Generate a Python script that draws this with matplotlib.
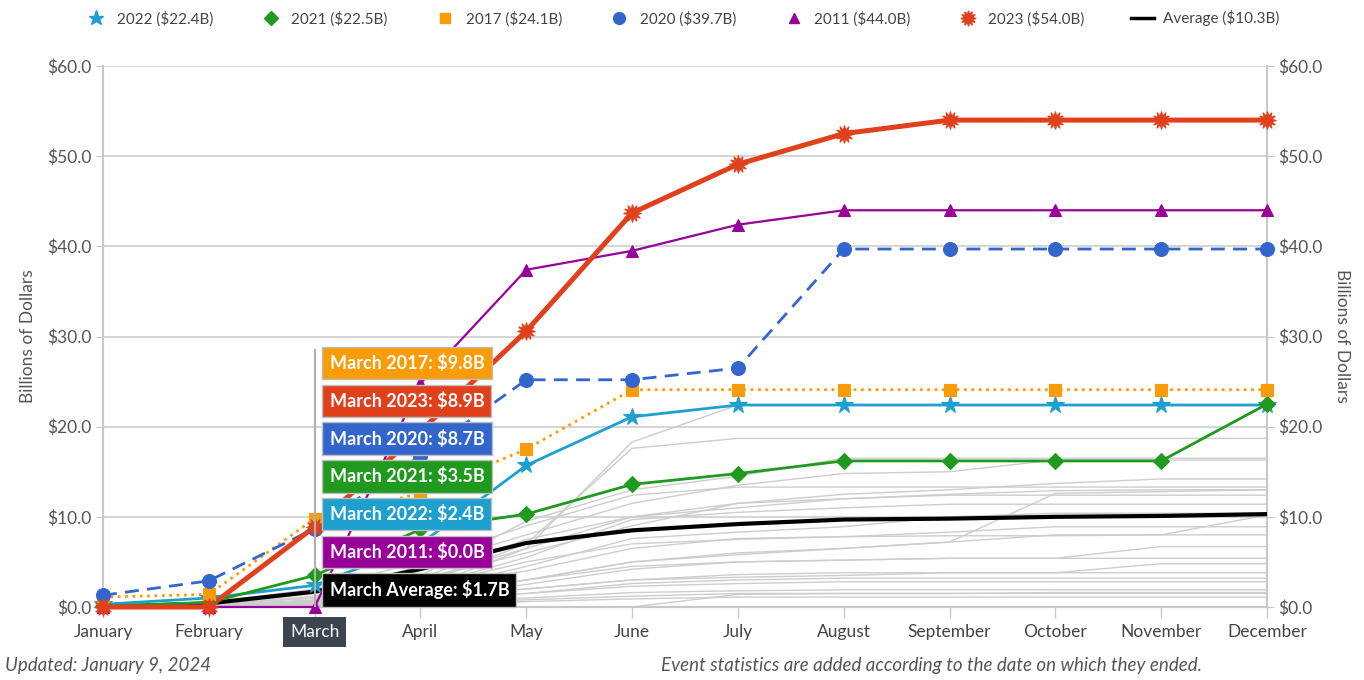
import matplotlib
matplotlib.use("Agg")
import matplotlib.pyplot as plt
from matplotlib.lines import Line2D
import numpy as np

plt.rcParams['font.family'] = ['Lato', 'DejaVu Sans']

months = ["January", "February", "March", "April", "May", "June", "July",
          "August", "September", "October", "November", "December"]

y2022 = [0.3, 1.0, 2.4, 7.0, 15.7, 21.1, 22.4, 22.4, 22.4, 22.4, 22.4, 22.4]
y2021 = [0.1, 0.5, 3.5, 8.6, 10.3, 13.6, 14.8, 16.2, 16.2, 16.2, 16.2, 22.5]
y2017 = [1.1, 1.4, 9.8, 12.6, 17.5, 24.1, 24.1, 24.1, 24.1, 24.1, 24.1, 24.1]
y2020 = [1.3, 2.9, 8.7, 16.8, 25.2, 25.2, 26.5, 39.7, 39.7, 39.7, 39.7, 39.7]
y2011 = [0.0, 0.0, 0.0, 24.8, 37.4, 39.5, 42.4, 44.0, 44.0, 44.0, 44.0, 44.0]
y2023 = [0.0, 0.0, 8.9, 19.5, 30.6, 43.7, 49.1, 52.5, 54.0, 54.0, 54.0, 54.0]
y_avg = [0.0, 0.4, 1.7, 4.2, 7.1, 8.5, 9.2, 9.7, 9.8, 10.0, 10.1, 10.3]

gray_years = [
    [0, 0.2, 0.6, 2.0, 6.5, 18.3, 22.4, 22.4, 22.4, 22.4, 22.4, 22.4],
    [0, 0.1, 0.5, 2.5, 7.0, 17.6, 18.7, 18.7, 18.7, 18.7, 18.7, 18.7],
    [0.1, 0.3, 1.2, 3.5, 9.5, 13.0, 14.5, 16.5, 16.5, 16.5, 16.5, 16.5],
    [0, 0.4, 1.5, 4.5, 8.0, 11.5, 13.5, 14.8, 15.0, 16.3, 16.3, 16.3],
    [0, 0.2, 0.8, 3.0, 6.0, 9.0, 11.5, 12.5, 13.0, 13.7, 14.2, 14.2],
    [0.1, 0.5, 2.0, 5.0, 9.0, 12.4, 13.3, 13.3, 13.3, 13.3, 13.3, 13.3],
    [0, 0.1, 0.3, 1.5, 3.0, 5.0, 5.8, 6.5, 7.2, 12.6, 12.8, 13.0],
    [0, 0.3, 1.0, 3.0, 6.5, 10.0, 11.5, 12.0, 12.4, 12.4, 12.4, 12.4],
    [0, 0.2, 0.7, 2.2, 5.5, 9.7, 10.5, 11.0, 11.4, 11.4, 11.4, 11.4],
    [0, 0.1, 0.4, 1.8, 4.5, 7.6, 8.3, 8.9, 10.0, 10.4, 10.4, 10.4],
    [0, 0.2, 0.5, 2.0, 4.0, 6.5, 7.6, 7.8, 7.9, 7.9, 8.0, 10.2],
    [0, 0.1, 0.3, 1.2, 3.0, 5.0, 6.0, 6.5, 7.2, 8.0, 8.0, 8.0],
    [0, 0.1, 0.4, 1.5, 3.0, 4.5, 5.0, 5.2, 5.4, 5.4, 6.7, 6.7],
    [0, 0.1, 0.3, 1.0, 2.5, 4.2, 5.0, 5.2, 5.4, 5.4, 5.4, 5.4],
    [0, 0.05, 0.2, 0.8, 2.0, 3.0, 3.3, 3.5, 3.8, 3.8, 4.8, 4.8],
    [0, 0.1, 0.3, 1.0, 2.0, 3.0, 3.6, 3.8, 3.8, 3.8, 3.8, 3.8],
    [0, 0.05, 0.2, 0.7, 1.5, 2.6, 3.0, 3.2, 3.2, 3.2, 3.2, 3.2],
    [0, 0.1, 0.3, 0.8, 1.5, 2.3, 2.6, 2.8, 2.8, 2.8, 2.8, 2.8],
    [0, 0.05, 0.2, 0.5, 1.0, 1.6, 1.8, 1.9, 1.9, 1.9, 1.9, 1.9],
    [0, 0.05, 0.1, 0.4, 0.8, 1.2, 1.5, 1.5, 1.5, 1.5, 1.5, 1.5],
    [0, 0, 0.1, 0.3, 0.6, 0.9, 1.1, 1.1, 1.1, 1.1, 1.1, 1.1],
    [0, 0, 0, 0, 0, 0, 1.4, 1.5, 1.5, 1.6, 1.6, 1.6],
    [0, 0.2, 0.6, 2.2, 5.0, 7.0, 7.5, 7.8, 8.3, 8.9, 8.9, 8.9],
    [0, 0.3, 1.0, 3.2, 7.5, 10.0, 11.0, 12.0, 12.5, 12.9, 13.0, 13.0],
]

series = [
    # label, values, color, marker, linestyle, lw, markersize
    ("2022 ($22.4B)", y2022, "#1d9fcf", "*", "-", 2.0, 13),
    ("2021 ($22.5B)", y2021, "#1f9a1f", "D", "-", 2.0, 8),
    ("2017 ($24.1B)", y2017, "#f99c07", "s", ":", 2.0, 8),
    ("2020 ($39.7B)", y2020, "#3366cc", "o", (0, (5, 3)), 2.0, 10),
    ("2011 ($44.0B)", y2011, "#990099", "^", "-", 1.6, 9),
    ("2023 ($54.0B)", y2023, "#e0401c", (12, 1, 0), "-", 3.6, 13),
]
avg_label = "Average ($10.3B)"

tooltip_labels = ["March 2017: $9.8B", "March 2023: $8.9B", "March 2020: $8.7B",
                  "March 2021: $3.5B", "March 2022: $2.4B", "March 2011: $0.0B",
                  "March Average: $1.7B"]
tooltip_colors = ["#f99c07", "#e0401c", "#3366cc", "#1f9a1f", "#1d9fcf", "#990099", "#000000"]

fig = plt.figure(figsize=(13.64, 6.8), dpi=100)
ax = fig.add_axes([103/1364, 1-607/680, (1267-103)/1364, (607-66)/680])
x = np.arange(len(months))

grid_c = "#d6d6d6"
for g in gray_years:
    ax.plot(x, g, color="#cdcdcd", lw=1.0, zorder=2)

ax.plot(x, y_avg, color="black", lw=3.0, zorder=3, solid_capstyle='round')

handles = []
for label, vals, col, mk, ls, lw, ms in series:
    ax.plot(x, vals, color=col, lw=lw, linestyle=ls, zorder=4, clip_on=False)
    ax.plot(x, vals, linestyle="none", marker=mk, markersize=ms, color=col,
            markeredgecolor=col, markeredgewidth=0.8, zorder=5, clip_on=False)
    handles.append(Line2D([], [], linestyle="none", marker=mk, color=col,
                          markersize=ms * 0.85, label=label))
handles.append(Line2D([], [], color="black", lw=2.5, label=avg_label))

ax.set_xlim(0, 11)
ax.set_ylim(0, 60)
ax.set_yticks(np.arange(0, 61, 10))
ax.set_yticklabels([f"${v:.1f}" for v in np.arange(0, 61, 10)])
ax.grid(axis="y", color=grid_c, lw=1.5, zorder=0)
ax.set_axisbelow(True)
ax.spines["top"].set_visible(False)
for s in ["left", "right", "bottom"]:
    ax.spines[s].set_color("#c8c8c8")
    ax.spines[s].set_linewidth(1.5)

ax.set_xticks(x)
ax.set_xticklabels(months)
ax.tick_params(axis="x", length=8, color="#c8c8c8", width=1, labelsize=12.5,
               labelcolor="#444444", pad=4)
ax.tick_params(axis="y", length=5, color="#c8c8c8", labelsize=12.5,
               labelcolor="#555555", pad=3, right=True, labelright=True)
for lbl in ax.get_xticklabels():
    if lbl.get_text() == "March":
        lbl.set_color("white")
        lbl.set_bbox(dict(facecolor="#3d4550", edgecolor="none", pad=5))

ax.set_ylabel("Billions of Dollars", fontsize=12.5, color="#555555", labelpad=8)
fig.text(1342/1364, 1-336/680, "Billions of Dollars", fontsize=12.5, color="#555555",
         rotation=270, ha="center", va="center")

# crosshair at March
ax.plot([2, 2], [0, 28.5], color="#b0b0b0", lw=1.5, zorder=6)

# tooltips
px0, _ = ax.transData.transform((2, 0))
for i, (txt, col) in enumerate(zip(tooltip_labels, tooltip_colors)):
    ypix = 680 - (363 + 37.8 * i)
    fig.text((px0 + 15) / 1364, ypix / 680, txt, fontsize=13, fontweight="bold",
             color="white", va="center", ha="left", zorder=10,
             bbox=dict(boxstyle="square,pad=0.4", facecolor=col, edgecolor="#bdbdbd", lw=1))

fig.legend(handles=handles, loc="upper center", ncol=7, frameon=False,
           bbox_to_anchor=(0.5, 1.005), fontsize=11, columnspacing=3.0,
           handlelength=1.5, handletextpad=0.6, labelcolor="#444444")

fig.text(5/1364, 1-665/680, "Updated: January 9, 2024", fontsize=13.5, style="italic",
         color="#555555", va="center", ha="left")
fig.text(1202/1364, 1-665/680,
         "Event statistics are added according to the date on which they ended.",
         fontsize=13.5, style="italic", color="#555555", va="center", ha="right")

fig.savefig("out.png", dpi=100)
